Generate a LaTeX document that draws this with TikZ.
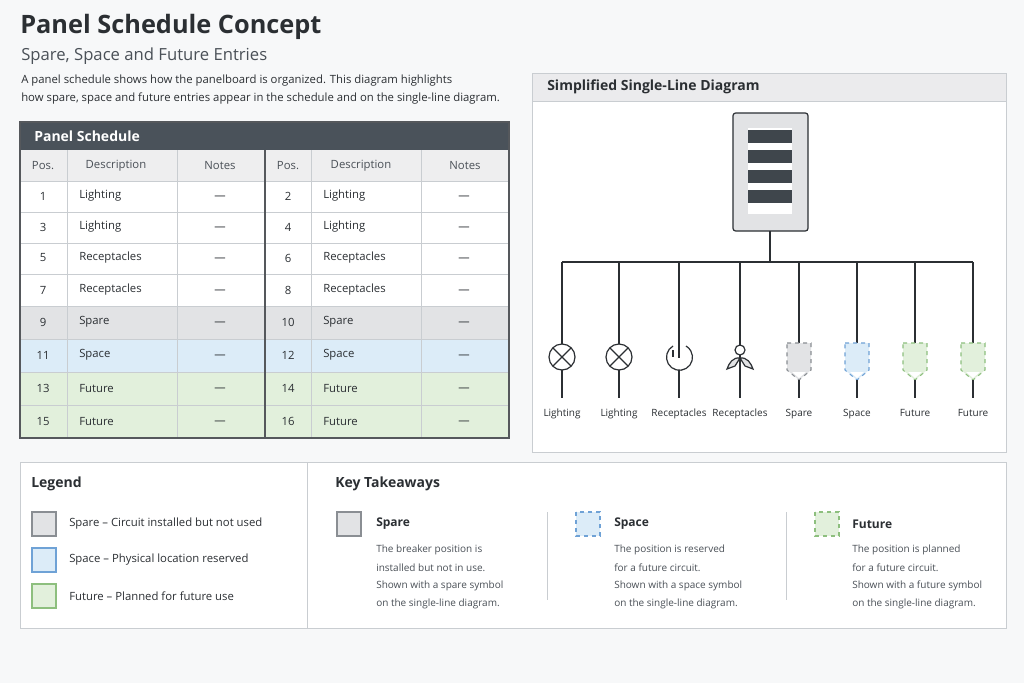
\documentclass[tikz,border=0pt]{standalone}
\usepackage{fontspec}
\setmainfont{Open Sans}
\usetikzlibrary{positioning}
\definecolor{bgpage}{HTML}{F7F8F9}
\definecolor{ink}{HTML}{2B2F33}
\definecolor{subink}{HTML}{4A5057}
\definecolor{hdrdark}{HTML}{4A525A}
\definecolor{gridln}{HTML}{C9CDD1}
\definecolor{sparefill}{HTML}{E2E3E5}
\definecolor{spacefill}{HTML}{DCECF8}
\definecolor{futurefill}{HTML}{E2F0DC}
\definecolor{sparedraw}{HTML}{8A8E93}
\definecolor{spacedraw}{HTML}{6FA2D6}
\definecolor{futuredraw}{HTML}{8DBF7E}
\tikzset{
  txt/.style={inner sep=0.75pt, text=ink, font=\fontsize{8.5}{10}\selectfont},
  cell/.style={txt, anchor=center},
  lbl/.style={txt, anchor=north, font=\fontsize{7.5}{8}\selectfont},
  body/.style={txt, anchor=west, font=\fontsize{7.5}{8.5}\selectfont, text=subink},
  swatch/.style={draw=#1draw, fill=#1fill, line width=0.8pt},
  sym/.style={draw=#1draw, fill=#1fill, dashed, line width=0.8pt},
  wire/.style={draw=ink, line width=0.9pt},
}
\begin{document}
\begin{tikzpicture}[x=0.75pt,y=0.75pt,yscale=-1,xscale=1]
\useasboundingbox (0,0) rectangle (1024,683);
\fill[bgpage] (0,0) rectangle (1024,683);

% Title block
\node[txt, anchor=west, font=\bfseries\fontsize{19}{22}\selectfont] (title) at (19,27) {Panel Schedule Concept};
\node[txt, anchor=west, text=subink, font=\fontsize{12.5}{14}\selectfont] (subtitle) at (20,56) {Spare, Space and Future Entries};
\node[txt, anchor=west, font=\fontsize{8.5}{10}\selectfont] (intro1) at (20,81) {A panel schedule shows how the panelboard is organized. This diagram highlights};
\node[txt, anchor=west, font=\fontsize{8.5}{10}\selectfont] (intro2) at (20,99) {how spare, space and future entries appear in the schedule and on the single-line diagram.};

% Panel schedule table
\fill[white] (20,150) rectangle (509,438);
\fill[sparefill] (20,306) rectangle (509,339);
\fill[spacefill] (20,339) rectangle (509,372);
\fill[futurefill] (20,372) rectangle (509,438);
\fill[hdrdark, rounded corners=2pt] (20,122) rectangle (509,150);
\fill[hdrdark] (20,140) rectangle (509,150);
\fill[sparefill!60] (20,150) rectangle (509,181);
\node[txt, anchor=west, text=white, font=\bfseries\fontsize{10.5}{12}\selectfont] (schedtitle) at (33,136) {Panel Schedule};
\foreach \y in {181,212,243,274,306,339,372,405}
  \draw[gridln] (20,\y) -- (509,\y);
\foreach \x in {67,177,311,421}
  \draw[gridln] (\x,150) -- (\x,438);
\draw[ink!80, line width=1.2pt] (265,150) -- (265,438);
\draw[ink!80, line width=0.8pt] (20,122) rectangle (509,438);
\foreach \c/\x in {0/0,1/245}{
  \node[cell, text=subink] (hp\c) at (43+\x,166) {Pos.};
  \node[cell, text=subink] (hd\c) at (116+\x,166) {Description};
  \node[cell, text=subink] (hn\c) at (220+\x,166) {Notes};
}
\foreach \a/\b/\d/\y in {1/2/Lighting/196,3/4/Lighting/227,5/6/Receptacles/258,7/8/Receptacles/290,9/10/Spare/322,11/12/Space/355,13/14/Future/388,15/16/Future/421}{
  \node[cell] (pa\a) at (43,\y) {\a};
  \node[txt, anchor=west] (da\a) at (78,\y) {\d};
  \node[cell] (na\a) at (220,\y+2) {---};
  \node[cell] (pb\b) at (288,\y) {\b};
  \node[txt, anchor=west] (db\b) at (322,\y) {\d};
  \node[cell] (nb\b) at (464,\y+2) {---};
}

% Single-line diagram
\draw[gridln, fill=white] (532,73) rectangle (1006,452);
\fill[sparefill!70] (532.5,73.5) rectangle (1005.5,101);
\draw[gridln] (532,101) -- (1006,101);
\node[txt, anchor=west, font=\bfseries\fontsize{10.5}{12}\selectfont] (sldtitle) at (546,87) {Simplified Single-Line Diagram};
\draw[ink, line width=0.9pt, fill=sparefill, rounded corners=2pt] (733,113) rectangle (808,231);
\fill[white] (748,128) rectangle (792,214);
\foreach \y in {130,150,170,190}
  \fill[hdrdark!85!black] (748,\y) rectangle (792,\y+13);
\coordinate (trunk) at (770,231);
\coordinate (bus) at (770,262);
\draw[wire] (trunk) -- (bus);
\draw[wire] (562,262) -- (973,262);
\foreach \x/\t [count=\i] in {562/Lighting,619/Lighting,679/Receptacles,740/Receptacles,799/Spare,857/Space,915/Future,973/Future}{
  \coordinate (top\i) at (\x,262);
  \coordinate (bot\i) at (\x,398);
  \node[lbl] (ld\i) at (\x,408) {\t};
}
% lamps
\foreach \i/\x in {1/562,2/619}{
  \draw[wire] (top\i) -- (\x,344);
  \draw[wire] (\x,370) -- (bot\i);
  \draw[wire] (\x,357) circle (13);
  \draw[wire] (\x-9.2,347.8) -- (\x+9.2,366.2) (\x-9.2,366.2) -- (\x+9.2,347.8);
}
% receptacles
\draw[wire] (top3) -- (679,345);
\draw[wire] (679,345) -- (679,358);
\draw[wire] (679,357) ++(-6,-11) arc (240:-60:13);
\draw[wire] (679,370) -- (bot3);
\draw[wire] (673,350) -- (673,357);
\draw[wire] (top4) -- (740,345);
\draw[wire] (740,350) circle (5);
\draw[wire] (740,355) -- (bot4);
\draw[wire, fill=sparefill] (740,358) .. controls (733,357) and (729,363) .. (727,369) -- (735,366) -- cycle;
\draw[wire, fill=sparefill] (740,358) .. controls (747,357) and (751,363) .. (753,369) -- (745,366) -- cycle;
% dashed symbols
\foreach \i/\x/\k in {5/799/spare,6/857/space,7/915/future,8/973/future}{
  \draw[wire] (top\i) -- (\x,343);
  \draw[sym=\k] (\x-12,343) -- (\x+12,343) -- (\x+12,370) -- (\x,380) -- (\x-12,370) -- cycle;
  \fill[white] (\x-7,372) -- (\x+7,372) -- (\x,378) -- cycle;
  \draw[wire] (\x,380) -- (bot\i);
}

% Legend and takeaways
\draw[gridln, fill=white] (20,462) rectangle (1006,628);
\draw[gridln] (307,462) -- (307,628);
\node[txt, anchor=west, font=\bfseries\fontsize{10.5}{12}\selectfont] (legtitle) at (30,484) {Legend};
\foreach \k/\t/\y in {spare/{Spare -- Circuit installed but not used}/524,space/{Space -- Physical location reserved}/560,future/{Future -- Planned for future use}/596}{
  \draw[swatch=\k] (32,\y-12) rectangle (56,\y+12);
  \node[txt, anchor=west] (leg\k) at (68,\y) {\t};
}
\node[txt, anchor=west, font=\bfseries\fontsize{10.5}{12}\selectfont] (keytitle) at (334,484) {Key Takeaways};
\draw[gridln] (547,512) -- (547,600);
\draw[gridln] (786,512) -- (786,600);
\draw[swatch=spare] (337,512) rectangle (361,536);
\draw[swatch=space, dashed] (576,512) rectangle (600,536);
\draw[swatch=future, dashed] (815,512) rectangle (839,536);
\foreach \k/\h/\x/\la/\lb/\lc/\ld in {
  spare/Spare/375/{The breaker position is}/{installed but not in use.}/{Shown with a spare symbol}/{on the single-line diagram.},
  space/Space/613/{The position is reserved}/{for a future circuit.}/{Shown with a space symbol}/{on the single-line diagram.},
  future/Future/851/{The position is planned}/{for a future circuit.}/{Shown with a future symbol}/{on the single-line diagram.}}{
  \node[txt, anchor=west, font=\bfseries\fontsize{9}{10}\selectfont] (kh\k) at (\x,524) {\h};
  \node[body] (ka\k) at (\x,550) {\la};
  \node[body] (kb\k) at (\x,568) {\lb};
  \node[body] (kc\k) at (\x,586) {\lc};
  \node[body] (kd\k) at (\x,604) {\ld};
}
\end{tikzpicture}
\end{document}
